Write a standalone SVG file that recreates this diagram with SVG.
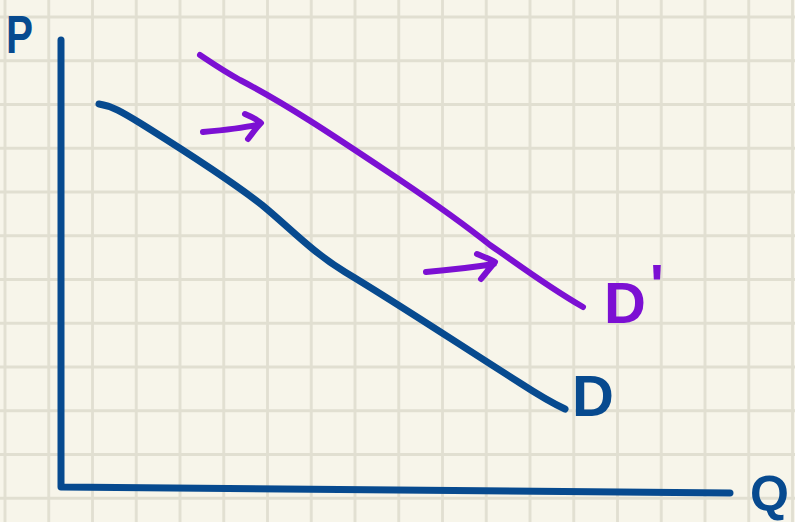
<svg xmlns="http://www.w3.org/2000/svg" width="795" height="522" viewBox="0 0 795 522">
<defs>
<pattern id="grid" x="3.5" y="15.5" width="43.75" height="43.75" patternUnits="userSpaceOnUse">
<path d="M1.5 0 V43.75 M0 1.5 H43.75" fill="none" stroke="#e1dfd1" stroke-width="2.8"/>
</pattern>
<style>
.blue{fill:none;stroke:#074a8f;stroke-width:7;stroke-linecap:round;stroke-linejoin:round}
.purple{fill:none;stroke:#7c10d3;stroke-width:6;stroke-linecap:round;stroke-linejoin:round}
.lbl{font-family:"Liberation Sans",Arial,sans-serif;font-weight:bold}
</style>
</defs>
<rect width="795" height="522" fill="#f7f5ea"/>
<rect width="795" height="522" fill="url(#grid)"/>
<g id="axes">
<path class="blue" d="M61 40 V487 L730 493"/>
</g>
<g id="connectors">
<path id="curve-D" class="blue" d="M99 104 C112 106 122 112 140 123 C175 145 225 176 262 205 C290 228 312 252 345 272 C400 305 460 345 520 383 C540 396 552 403 565 409"/>
<path id="curve-Dprime" class="purple" d="M200 55 C212 63 222 70 240 80 C290 106 340 140 400 180 C440 207 465 225 490 245 C515 262 545 285 583 307"/>
<path id="arrow1" class="purple" d="M203 132 C225 130 245 128 260 124 M245 114 C252 117 258 120 261 123 C256 128 252 134 248 139"/>
<path id="arrow2" class="purple" d="M426 272 C450 270 475 267 494 264 M477 254 C484 257 490 259 495 262 C490 268 485 274 481 279"/>
</g>
<g id="label-P"><text class="lbl" x="0" y="0" font-size="54" fill="#074a8f" transform="translate(6 53) scale(0.75 1)">P</text></g>
<g id="label-Dprime"><text class="lbl" x="604" y="323" font-size="58" fill="#7c10d3">D<tspan dx="4" dy="-18">'</tspan></text></g>
<g id="label-D"><text class="lbl" x="572" y="416" font-size="58" fill="#074a8f">D</text></g>
<g id="label-Q"><text class="lbl" x="750" y="511" font-size="50" fill="#074a8f">Q</text></g>
</svg>
